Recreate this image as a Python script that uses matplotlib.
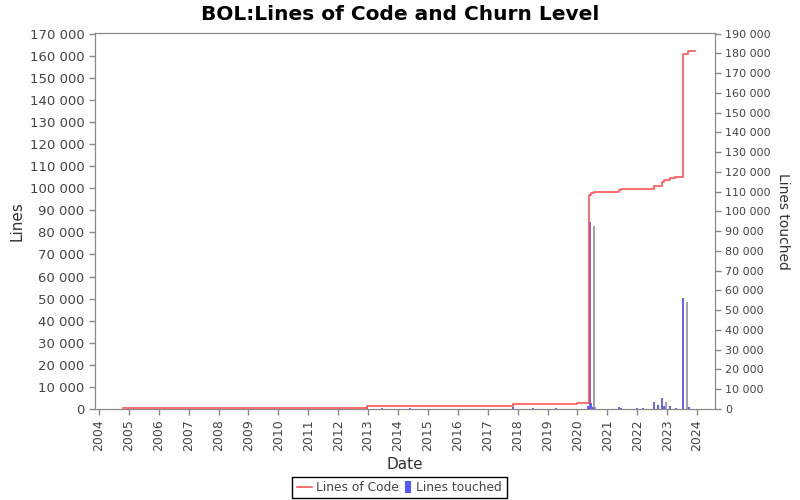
import matplotlib
matplotlib.use("Agg")
import matplotlib.pyplot as plt
import matplotlib.transforms as mtransforms
from matplotlib.lines import Line2D
from matplotlib.patches import Rectangle
from matplotlib.ticker import FuncFormatter, MultipleLocator

plt.rcParams['font.family'] = ['DejaVu Sans']

# Lines of code (step series), dates as decimal years
loc_dates = [2004.80, 2011.90, 2012.98, 2013.48, 2017.83, 2018.50, 2019.30, 2020.00,
             2020.38, 2020.45, 2020.55, 2021.38, 2021.45, 2022.56, 2022.83, 2022.90,
             2023.10, 2023.25, 2023.53, 2023.70, 2023.92]
loc_values = [300, 600, 1200, 1400, 2100, 2200, 2400, 2500,
              97000, 98000, 98500, 99300, 99700, 101200, 102800, 103500,
              104600, 105000, 161000, 162000, 162000]

# Lines touched (churn bars)
churn_dates = [2005.2, 2008.0, 2012.0, 2012.98, 2013.48, 2014.4, 2017.83, 2018.5, 2019.3,
               2020.36, 2020.43, 2020.47, 2020.52, 2021.40, 2021.45, 2022.0, 2022.2,
               2022.56, 2022.70, 2022.84, 2022.90, 2023.10, 2023.30, 2023.54, 2023.73]
churn_values = [200, 100, 300, 800, 500, 300, 900, 300, 300,
                1500, 94700, 3000, 1200, 800, 500, 300, 700,
                3700, 1860, 5570, 1500, 1700, 500, 56200, 1000]

left_ticks_max = 170000
right_ticks_max = 190000
year_ticks = list(range(2004, 2025))
legend_labels = ['Lines of Code', 'Lines touched']

GRAY = '#888888'
TXT = '#444444'
RED = '#ff5555'
BLUE = '#5555ff'

fig = plt.figure(figsize=(8, 5), dpi=100)
ax = fig.add_axes([95/800, 1-409/500, (715-95)/800, (409-33)/500])
ax2 = ax.twinx()

# bars on right axis, with shadow
shadow_tr = mtransforms.offset_copy(ax2.transData, fig=fig, x=4, y=-4, units='dots')
ax2.vlines(churn_dates, 0, churn_values, colors='#999999', linewidth=1.3, transform=shadow_tr, zorder=1)
ax2.vlines(churn_dates, 0, churn_values, colors=BLUE, linewidth=1.3, zorder=2)

ax.plot(loc_dates, loc_values, drawstyle='steps-post', color=RED, linewidth=1.2, zorder=3)
ax.set_zorder(ax2.get_zorder() + 1)
ax.patch.set_visible(False)

ax.set_xlim(2003.87, 2024.6)
ax.set_ylim(0, left_ticks_max * 1.0018)
ax2.set_ylim(0, right_ticks_max * 1.0018)

fmt = FuncFormatter(lambda v, p: f"{int(round(v)):,}".replace(",", " "))
ax.yaxis.set_major_locator(MultipleLocator(10000))
ax.yaxis.set_major_formatter(fmt)
ax2.yaxis.set_major_locator(MultipleLocator(10000))
ax2.yaxis.set_major_formatter(fmt)
ax.set_xticks(year_ticks)
ax.set_xticklabels([str(y) for y in year_ticks], rotation=90)

for a in (ax, ax2):
    a.tick_params(colors=GRAY, labelcolor=TXT, length=4, width=1)
    for s in a.spines.values():
        s.set_color(GRAY)
ax.tick_params(axis='y', labelsize=9.5)
ax2.tick_params(axis='y', labelsize=8)
ax.tick_params(axis='x', labelsize=9)

ax.set_ylabel('Lines', fontsize=11, color='#333333')
ax.set_xlabel('Date', fontsize=11, color='#333333')
ax2.set_ylabel('Lines touched', fontsize=10, color='#333333', rotation=-90, labelpad=14)

fig.suptitle('BOL:Lines of Code and Churn Level', fontsize=14.5, fontweight='bold', y=0.99)

# manual legend (pixel layout converted to figure fraction)
W, H = 800.0, 500.0
def fx(px): return px / W
def fy(py): return 1 - py / H
fig.patches.append(Rectangle((fx(292), fy(498)), fx(507) - fx(292), fy(477) - fy(498),
                             transform=fig.transFigure, fill=True, facecolor='white',
                             edgecolor='black', linewidth=1))
fig.lines.append(Line2D([fx(297), fx(312)], [fy(487), fy(487)], transform=fig.transFigure,
                        color=RED, linewidth=1.2))
fig.text(fx(316), fy(487.5), legend_labels[0], fontsize=8.8, color=TXT, va='center', ha='left')
fig.patches.append(Rectangle((fx(405), fy(493)), fx(410.5) - fx(405), fy(481) - fy(493),
                             transform=fig.transFigure, facecolor=BLUE, edgecolor='none'))
fig.text(fx(416), fy(487.5), legend_labels[1], fontsize=8.8, color=TXT, va='center', ha='left')

fig.savefig('out.png', dpi=100)
